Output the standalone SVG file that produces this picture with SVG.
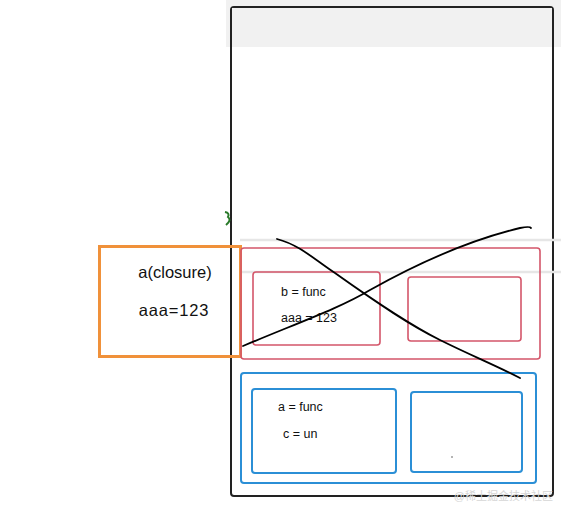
<svg xmlns="http://www.w3.org/2000/svg" width="561" height="508" viewBox="0 0 561 508">
<style>
.t{font-family:"Liberation Sans",Arial,sans-serif;fill:#111}
.red{fill:none;stroke:#d4566a;stroke-width:1.6}
.blue{fill:none;stroke:#2b8fd6;stroke-width:2}
.ink{fill:none;stroke:#000;stroke-width:1.8;stroke-linecap:round}
</style>
<rect x="0" y="0" width="561" height="508" fill="#fff"/>
<rect x="226" y="0" width="335" height="47" fill="#f1f1f1"/>
<g id="phone">
<rect x="231" y="7" width="322" height="489" rx="3" fill="none" stroke="#222" stroke-width="2"/>
<rect x="232" y="8" width="320" height="39" fill="#f1f1f1"/>
</g>
<line x1="240" y1="240" x2="561" y2="240" stroke="#e6e6e6" stroke-width="2.5"/>
<line x1="242" y1="272" x2="561" y2="272" stroke="#e6e6e6" stroke-width="2.5"/>
<path d="M225,212 q5,1 3,5 q4,3 -2,8" fill="none" stroke="#2a7a2a" stroke-width="2"/>
<g id="closure">
<rect x="99.5" y="246.5" width="141" height="110" fill="none" stroke="#f0913a" stroke-width="3"/>
<text class="t" x="175" y="278" font-size="16.5" text-anchor="middle">a(closure)</text>
<text class="t" x="174" y="316" font-size="16.5" letter-spacing="0.8" text-anchor="middle">aaa=123</text>
</g>
<g id="red-scope">
<rect class="red" x="241" y="248" width="299" height="111" rx="3"/>
</g>
<g id="red-left">
<rect class="red" x="253" y="272" width="127" height="73" rx="3"/>
<text class="t" x="281" y="296" font-size="12.5">b = func</text>
<text class="t" x="281" y="322" font-size="12.5">aaa = 123</text>
</g>
<g id="red-right">
<rect class="red" x="408" y="277" width="113" height="64" rx="3"/>
</g>
<g id="blue-scope">
<rect class="blue" x="241" y="373" width="295" height="110" rx="3"/>
</g>
<g id="blue-left">
<rect class="blue" x="252" y="389" width="144" height="84" rx="3"/>
<text class="t" x="278" y="411" font-size="12.5">a = func</text>
<text class="t" x="283" y="438" font-size="12.5">c = un</text>
</g>
<g id="blue-right">
<rect class="blue" x="411" y="392" width="111" height="80" rx="3"/>
<circle cx="452" cy="457" r="0.8" fill="#555"/>
</g>
<g id="connectors">
<path class="ink" d="M243,346 C300,322 340,308 370,290 C420,262 470,240 520,228 Q530,226 531,228"/>
<path class="ink" d="M277,239 C300,245 315,260 335,273 C380,305 410,325 440,340 C470,355 495,365 520,378"/>
</g>
<text x="553" y="500" font-size="11" text-anchor="end" fill="#d6d6d6" font-family="'Liberation Sans','Noto Sans CJK SC',sans-serif">@稀土掘金技术社区</text>
</svg>
